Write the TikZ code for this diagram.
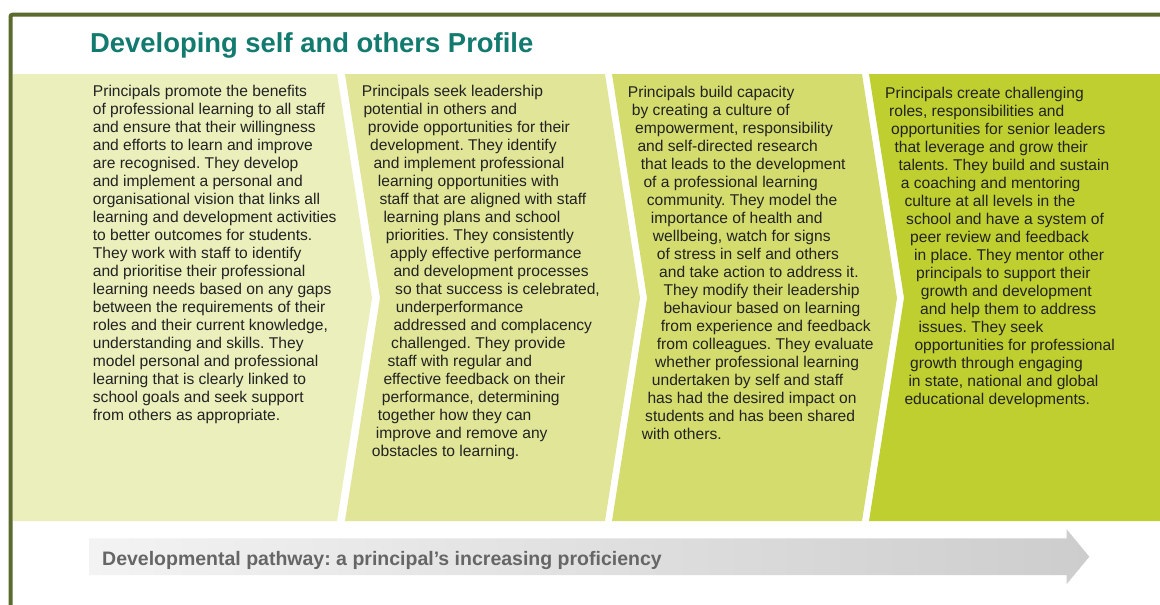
\documentclass[tikz,border=0pt]{standalone}
\usepackage{fontspec}
\setmainfont{Liberation Sans}
\definecolor{borderc}{HTML}{5B6B2E}
\definecolor{titlec}{HTML}{127A6E}
\definecolor{pa}{HTML}{EAEFBB}
\definecolor{pb}{HTML}{E0E597}
\definecolor{pc}{HTML}{D4DC6E}
\definecolor{pd}{HTML}{BFCF2F}
\definecolor{txtc}{HTML}{222222}
\definecolor{arrowl}{HTML}{F3F3F3}
\definecolor{arrowr}{HTML}{CDCDCD}
\definecolor{arrowt}{HTML}{666666}
\tikzset{
  txt/.style={anchor=base west, inner sep=0pt, text=txtc, font=\frenchspacing\fontsize{15.6}{18}\selectfont},
  titletxt/.style={anchor=base west, inner sep=0pt, text=titlec, font=\bfseries\fontsize{27.4}{30}\selectfont},
  pathtxt/.style={anchor=base west, inner sep=0pt, text=arrowt, font=\frenchspacing\bfseries\fontsize{19.5}{22}\selectfont},
}
\begin{document}
\begin{tikzpicture}[x=1pt,y=-1pt]
\useasboundingbox (0,0) rectangle (1160,605);
\fill[white] (0,0) rectangle (1160,605);
% panels
\fill[pa] (13,74) -- (337,74) -- (372,298) -- (337,521) -- (13,521) -- cycle;
\fill[pb] (345,74) -- (605,74) -- (640,298) -- (605,521) -- (345,521) -- (380,298) -- cycle;
\fill[pc] (612,74) -- (862,74) -- (897,298) -- (862,521) -- (612,521) -- (647,298) -- cycle;
\fill[pd] (869,74) -- (1160,74) -- (1160,521) -- (869,521) -- (904,298) -- cycle;
% border
\draw[borderc, line width=4pt, rounded corners=2pt] (10.5,606) -- (10.5,14.7) -- (1161,14.7);
% title
\node[titletxt] (title) at (90,52.3) {Developing self and others Profile};
% panel texts
\foreach \x/\t [count=\i] in {
92.7/{Principals promote the benefits},
92.7/{of professional learning to all staff},
92.7/{and ensure that their willingness},
92.7/{and efforts to learn and improve},
92.7/{are recognised. They develop},
92.7/{and implement a personal and},
92.7/{organisational vision that links all},
92.7/{learning and development activities},
92.7/{to better outcomes for students.},
92.7/{They work with staff to identify},
92.7/{and prioritise their professional},
92.7/{learning needs based on any gaps},
92.7/{between the requirements of their},
92.7/{roles and their current knowledge,},
92.7/{understanding and skills. They},
92.7/{model personal and professional},
92.7/{learning that is clearly linked to},
92.7/{school goals and seek support},
92.7/{from others as appropriate.}}
  \node[txt] (a\i) at (\x,{78.7+18*\i}) {\t};
\foreach \x/\t [count=\i] in {
361.7/{Principals seek leadership},
363.3/{potential in others and},
367.7/{provide opportunities for their},
370/{development. They identify},
373.3/{and implement professional},
377.7/{learning opportunities with},
379.3/{staff that are aligned with staff},
383.3/{learning plans and school},
385.7/{priorities. They consistently},
390/{apply effective performance},
393.3/{and development processes},
395/{so that success is celebrated,},
395.7/{underperformance},
393.3/{addressed and complacency},
391/{challenged. They provide},
387.3/{staff with regular and},
383.3/{effective feedback on their},
381.7/{performance, determining},
377.7/{together how they can},
375.7/{improve and remove any},
371.7/{obstacles to learning.}}
  \node[txt] (b\i) at (\x,{78.7+18*\i}) {\t};
\foreach \x/\t [count=\i] in {
627.7/{Principals build capacity},
631.7/{by creating a culture of},
635/{empowerment, responsibility},
637.3/{and self-directed research},
640.7/{that leads to the development},
643.3/{of a professional learning},
646.7/{community. They model the},
650.7/{importance of health and},
652.7/{wellbeing, watch for signs},
656.7/{of stress in self and others},
659/{and take action to address it.},
663.3/{They modify their leadership},
663.3/{behaviour based on learning},
660.7/{from experience and feedback},
656.7/{from colleagues. They evaluate},
655/{whether professional learning},
651.7/{undertaken by self and staff},
647.3/{has had the desired impact on},
645/{students and has been shared},
641.7/{with others.}}
  \node[txt] (c\i) at (\x,{79.2+18*\i}) {\t};
\foreach \x/\t [count=\i] in {
885/{Principals create challenging},
889/{roles, responsibilities and},
891/{opportunities for senior leaders},
894.3/{that leverage and grow their},
898.3/{talents. They build and sustain},
900.7/{a coaching and mentoring},
904.3/{culture at all levels in the},
906/{school and have a system of},
910/{peer review and feedback},
914/{in place. They mentor other},
916/{principals to support their},
920.7/{growth and development},
920/{and help them to address},
918.3/{issues. They seek},
914.3/{opportunities for professional},
910/{growth through engaging},
908.3/{in state, national and global},
904.3/{educational developments.}}
  \node[txt] (d\i) at (\x,{80.3+18*\i}) {\t};
% developmental pathway arrow
\shade[left color=arrowl, right color=arrowr]
  (89,538.3) -- (1066.7,538.3) -- (1066.7,529.3) -- (1089.3,556.7) -- (1066.7,584) -- (1066.7,575) -- (89,575) -- cycle;
\node[pathtxt] (path) at (102,565) {Developmental pathway: a principal’s increasing proficiency};
\end{tikzpicture}
\end{document}
